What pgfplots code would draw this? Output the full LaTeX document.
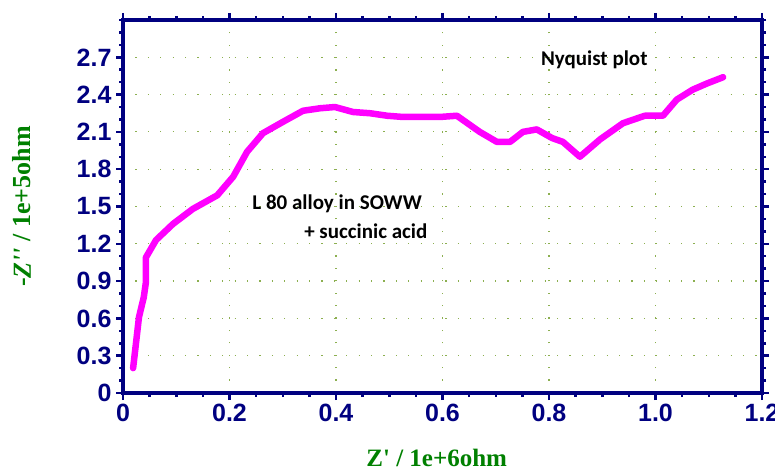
\documentclass[border=0pt]{standalone}
\usepackage{fontspec}
\setmainfont{Liberation Serif}
\newfontfamily\lblfont{Liberation Serif}[Ligatures=ResetAll]
\newfontfamily\arialfont{Liberation Sans}
\newfontfamily\calfont{Carlito}
\usepackage{pgfplots}
\pgfplotsset{compat=1.18}
\definecolor{navy}{RGB}{0,0,128}
\definecolor{mag}{RGB}{255,0,255}
\definecolor{lblgreen}{RGB}{0,128,0}
\definecolor{gridc}{RGB}{140,175,80}
\begin{document}
\begin{tikzpicture}
\begin{axis}[
  scale only axis, width=639pt, height=373pt,
  xmin=0, xmax=1.2, ymin=0, ymax=3.0,
  axis line style={navy, line width=3.5pt},
  tick align=outside,
  major tick length=7pt, minor tick length=4pt,
  every tick/.style={navy, line width=2.5pt},
  xtick={0,0.2,0.4,0.6,0.8,1.0,1.2},
  xticklabels={0,0.2,0.4,0.6,0.8,1.0,1.2},
  ytick={0,0.3,0.6,0.9,1.2,1.5,1.8,2.1,2.4,2.7},
  yticklabels={0,0.3,0.6,0.9,1.2,1.5,1.8,2.1,2.4,2.7},
  minor xtick={0.05,0.1,0.15,0.25,0.3,0.35,0.45,0.5,0.55,0.65,0.7,0.75,0.85,0.9,0.95,1.05,1.1,1.15},
  minor ytick={0.1,0.2,0.4,0.5,0.7,0.8,1.0,1.1,1.3,1.4,1.6,1.7,1.9,2.0,2.2,2.3,2.5,2.6,2.8,2.9,3.0},
  ticklabel style={font=\arialfont\bfseries\fontsize{25}{25}\selectfont, text=navy},
  xticklabel style={yshift=-1pt},
  yticklabel style={xshift=-1pt},
  grid=major,
  major grid style={gridc, line width=1.2pt, dash pattern=on 1.2pt off 11.2pt},
  xlabel={Z' / 1e+6ohm},
  ylabel={-\textit{Z''} / 1e+5ohm},
  xlabel style={font=\lblfont\bfseries\fontsize{25}{25}\selectfont, text=lblgreen,
    at={(axis description cs:0.491,0)}, anchor=center, yshift=-65pt},
  ylabel style={font=\lblfont\bfseries\fontsize{26}{26}\selectfont, text=lblgreen,
    at={(axis description cs:-0.158,0.5)}, anchor=center, rotate=0},
]
\addplot[mag, line width=6.5pt, line join=round, line cap=round] coordinates {
(0.019,0.20) (0.030,0.61) (0.039,0.77) (0.043,0.89) (0.043,1.09)
(0.062,1.23) (0.094,1.36) (0.131,1.48) (0.177,1.59) (0.207,1.74)
(0.233,1.94) (0.263,2.09) (0.300,2.18) (0.338,2.27) (0.370,2.29)
(0.398,2.30) (0.432,2.26) (0.464,2.25) (0.496,2.23) (0.526,2.22)
(0.558,2.22) (0.595,2.22) (0.627,2.23) (0.670,2.10) (0.702,2.02)
(0.727,2.02) (0.751,2.10) (0.777,2.12) (0.806,2.05) (0.826,2.02)
(0.858,1.90) (0.896,2.04) (0.939,2.17) (0.980,2.23) (1.014,2.23)
(1.040,2.36) (1.070,2.44) (1.097,2.49) (1.127,2.54)
};
\node[font=\calfont\bfseries\fontsize{21}{21}\selectfont] at (axis cs:0.885,2.68) {Nyquist plot};
\node[font=\calfont\bfseries\fontsize{21}{21}\selectfont] at (axis cs:0.402,1.52) {L 80 alloy in SOWW};
\node[font=\calfont\bfseries\fontsize{21}{21}\selectfont] at (axis cs:0.456,1.30) {+ succinic acid};
\end{axis}
\pgfresetboundingbox
\path (-123pt,-75pt) rectangle (652pt,393pt);
\end{tikzpicture}
\end{document}
